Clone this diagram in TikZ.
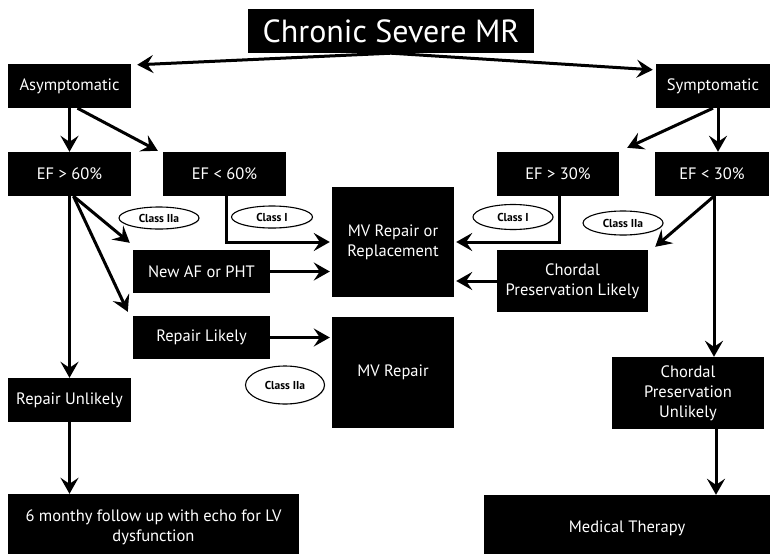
\documentclass[tikz,border=0pt]{standalone}
\usepackage{fontspec}
\setmainfont{PT Sans}
\usetikzlibrary{arrows.meta,shadows,shapes.geometric}
\begin{document}
\begin{tikzpicture}[x=1pt,y=-1pt,
  box/.style={fill=black,draw=none,text=white,inner sep=0pt,align=center,
    font=\fontsize{16.5}{20}\selectfont},
  arr/.style={line width=3pt,-{Stealth[length=16pt,width=18pt,inset=6pt]}},
  cls/.style={ellipse,draw=black,line width=1.1pt,fill=white,inner sep=0pt,
    font=\bfseries\fontsize{11.5}{13}\selectfont,
    drop shadow={opacity=0.25,shadow xshift=0.8pt,shadow yshift=-0.8pt}}]
\useasboundingbox (0,0) rectangle (771,554);

% decision boxes
\node[box,minimum width=286,minimum height=44,font=\fontsize{32}{36}\selectfont] (title) at (391,31) {Chronic Severe MR};
\node[box,minimum width=123,minimum height=44] (asym) at (69.5,86) {Asymptomatic};
\node[box,minimum width=114,minimum height=44] (symp) at (713,86) {Symptomatic};
\node[box,minimum width=123,minimum height=44] (ef60a) at (69.5,174) {EF > 60\%};
\node[box,minimum width=123,minimum height=44] (ef60b) at (224.5,174) {EF < 60\%};
\node[box,minimum width=122,minimum height=44] (ef30a) at (558,174) {EF > 30\%};
\node[box,minimum width=114,minimum height=44] (ef30b) at (712,174) {EF < 30\%};
\node[box,minimum width=122,minimum height=110] (mvrr) at (393,242) {MV Repair or\\Replacement};
\node[box,minimum width=137,minimum height=43] (newaf) at (201.5,271.5) {New AF or PHT};
\node[box,minimum width=137,minimum height=43] (replik) at (201.5,337.5) {Repair Likely};
\node[box,minimum width=122,minimum height=111] (mvrep) at (393,372.5) {MV Repair};
\node[box,minimum width=151,minimum height=62] (chlik) at (572.5,281) {Chordal\\Preservation Likely};
\node[box,minimum width=152,minimum height=72] (chunl) at (688,393) {Chordal\\Preservation\\Unlikely};
\node[box,minimum width=123,minimum height=44] (repunl) at (69.5,400) {Repair Unlikely};
% the two bottom boxes run off the lower page edge
\node[box,minimum width=291,minimum height=67] (follow) at (153.5,527.5) {6 monthy follow up with echo for LV\\dysfunction};
\node[box,minimum width=286,minimum height=67] (medical) at (627,528.5) {Medical Therapy};

% recommendation classes
\node[cls,minimum width=80,minimum height=22] (c1) at (159,218) {Class IIa};
\node[cls,minimum width=81,minimum height=22] (c2) at (272,217) {Class I};
\node[cls,minimum width=80,minimum height=25] (c3) at (513,217) {Class I};
\node[cls,minimum width=80,minimum height=24] (c4) at (623,223) {Class IIa};
\node[cls,minimum width=79,minimum height=38] (c5) at (285,385) {Class IIa};

% connectors
\draw[arr] (title.south) -- ([xshift=6pt,yshift=-1pt]asym.north east);
\draw[arr] (title.south) -- ([xshift=-3pt,yshift=-6pt]symp.north west);
\draw[arr] (asym.south) -- (ef60a.north);
\draw[arr] ([xshift=8pt]asym.south) -- ([xshift=-5pt,yshift=1pt]ef60b.north west);
\draw[arr] (symp.south) -- ([xshift=8pt,yshift=4pt]ef30a.north east);
\draw[arr] ([xshift=5pt]symp.south) -- ([xshift=5pt]symp.south |- ef30b.north);
\draw[arr] ([xshift=4pt]ef60a.south) -- ([xshift=-3pt,yshift=7pt]newaf.north west);
\draw[arr] ([xshift=4pt]ef60a.south) -- ([xshift=-5pt,yshift=4pt]replik.north west);
\draw[arr] (ef60a.south) -- (repunl.north);
\draw[arr] ([xshift=2pt]ef60b.south) |- ([xshift=-2pt]mvrr.west);
\draw[arr] (newaf.east) -- ([xshift=-2pt]newaf.east -| mvrr.west);
\draw[arr] (replik.east) -- ([xshift=-2pt]replik.east -| mvrep.west);
\draw[arr] ([xshift=1pt]ef30a.south) |- ([xshift=2pt]mvrr.east);
\draw[arr] (chlik.west) -- ([xshift=2pt]chlik.west -| mvrr.east);
\draw[arr] ([xshift=2pt]ef30b.south) -- ([xshift=7pt,yshift=3pt]chlik.north east);
\draw[arr] ([xshift=2pt]ef30b.south) -- ([xshift=2pt]ef30b.south |- chunl.north);
\draw[arr] (repunl.south) -- (repunl.south |- follow.north);
\draw[arr] ([xshift=28pt]chunl.south) -- ([xshift=28pt]chunl.south |- medical.north);
\end{tikzpicture}
\end{document}
